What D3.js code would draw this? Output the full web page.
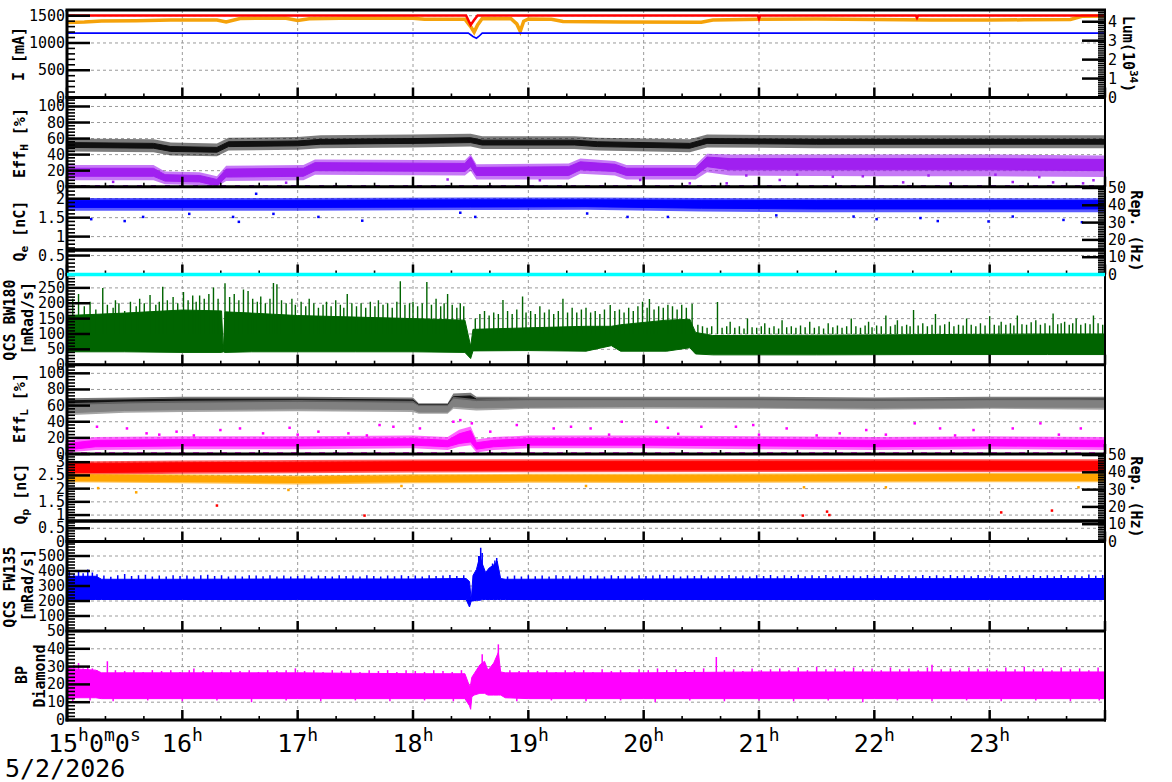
<!DOCTYPE html>
<html><head><meta charset="utf-8">
<script src="https://cdn.jsdelivr.net/npm/d3@7"></script>
<style>
body{margin:0;background:#fff;}
svg{display:block;font-family:"DejaVu Sans Mono",monospace;}
</style></head><body>
<svg id="c" width="1172" height="782"></svg>
<script>
// ---------------- DATA (time in decimal hours) ----------------
const hourTicks = [15,16,17,18,19,20,21,22,23,24];
const hourLabels = ["15","16","17","18","19","20","21","22","23"];
const dateLabel = "5/2/2026";

// Panel 1: beam currents [t, mA], luminosity [t, 1e34]
const currentRed = [[15,1505],[18.46,1505],[18.5,1330],[18.53,1420],[18.56,1505],[20.99,1505],[21.0,1440],[21.01,1505],[22.36,1505],[22.37,1460],[22.38,1505],[24,1505]];
const currentOrange = [[15.0,1375],[15.15,1385],[15.3,1405],[15.6,1410],[15.9,1420],[16.3,1420],[16.38,1385],[16.5,1450],[16.9,1455],[17.0,1415],[17.1,1445],[17.5,1460],[18.0,1455],[18.1,1435],[18.45,1435],[18.5,1300],[18.53,1200],[18.56,1330],[18.6,1450],[18.85,1445],[18.9,1350],[18.93,1215],[18.96,1400],[19.0,1440],[19.2,1435],[19.3,1395],[19.8,1385],[20.5,1380],[20.6,1420],[21.0,1435],[21.5,1440],[22.0,1430],[22.5,1420],[23.0,1420],[23.3,1425],[23.7,1430],[23.8,1490],[24.0,1495]];
const luminosity = [[15,3.4],[18.48,3.4],[18.52,3.22],[18.55,3.13],[18.57,3.22],[18.6,3.4],[24,3.4]];

// Scatter bands: rows [t, outerLo, coreLo, coreHi, outerHi]
const effHBlack = [[15.0,44,49,55,60],[15.75,43,48,54,59],[15.9,39,44,50,55],[16.3,38,43,49,54],[16.4,45,50,56,61],[17.0,46,51,57,62],[17.2,48,53,59,64],[18.0,49,54,60,65],[18.5,50,55,61,66],[18.6,47,52,58,63],[19.4,47,52,58,63],[19.6,45,50,56,61],[20.4,43,48,54,59],[20.55,49,54,60,65],[21.5,48,53,59,64],[22.5,48,53,59,64],[24,48,53,59,64]];
const effHPurple = [[15.0,8,13,23,27],[15.75,8,13,23,27],[15.85,3,7,15,19],[16.15,2,6,14,18],[16.3,0,1,9,13],[16.38,7,12,22,26],[17.05,8,13,23,27],[17.15,15,20,30,34],[18.45,14,19,29,33],[18.5,20,25,37,40],[18.55,9,14,24,28],[19.35,9,14,25,29],[19.45,16,21,31,35],[19.75,14,19,28,32],[19.85,9,14,23,27],[20.45,9,14,23,27],[20.55,18,25,37,41],[20.75,14,21,35,40],[22.0,13,21,35,40],[23.0,13,21,35,40],[24.0,12,20,34,39]];
const effHPurpleOut = [[19.97,8.4],[20.40,4.2],[20.72,4.2],[21.18,8.4],[21.64,12.5],[22.25,5.4],[22.66,4.2],[23.20,5.8],[23.55,5.4],[23.81,4.2],[23.9,8],[20.89,14],[21.33,15],[21.9,13],[22.47,14],[23.05,15],[23.43,12],[16.9,5],[18.3,9],[19.1,8],[15.4,6]];
const effHZero = [[15,0.6],[24,0.6]];

const qeBlue = [[15.0,1.68,1.77,1.96,2.02],[17.0,1.68,1.77,1.96,2.02],[18.5,1.7,1.78,1.97,2.03],[19.5,1.71,1.79,1.97,2.03],[20.5,1.66,1.75,1.96,2.02],[21.5,1.64,1.73,1.95,2.01],[24.0,1.64,1.73,1.95,2.01]];
const qeOut = [[15.21,1.46],[15.50,1.41],[15.66,1.52],[16.06,1.60],[16.49,1.39],[16.44,1.52],[16.79,1.6],[17.18,1.52],[17.56,1.42],[18.41,1.63],[18.54,1.52],[16.64,2.13],[19.51,1.61],[19.86,1.52],[20.21,1.52],[21.15,1.56],[21.82,1.53],[22.02,1.46],[22.40,1.49],[22.55,1.41],[22.99,1.40],[23.20,1.53],[23.64,1.44],[23.80,1.38]];
const qeRefLine = [[15,0.645],[24,0.645]];
const repZero = [[15,0],[24,0]];

// Spiky signals: dense envelope rows [t, lo, hi] and spike tips [t, v]
const bw180 = [[15.0,42,160],[15.5,42,168],[16.0,40,178],[16.34,40,175],[16.355,42,44],[16.37,40,172],[16.6,42,168],[17.0,42,160],[17.5,42,155],[18.0,42,150],[18.45,40,145],[18.5,20,60],[18.52,45,115],[19.0,46,120],[19.5,44,125],[19.72,62,125],[19.8,44,130],[20.2,44,145],[20.4,55,148],[20.45,35,105],[20.6,32,95],[21.5,32,96],[22.5,33,98],[23.5,33,100],[24.0,33,100]];
const bw180Spikes = [[15.00,195],[15.05,215],[15.10,230],[15.15,190],[15.20,205],[15.25,180],[15.31,250],[15.35,195],[15.40,185],[15.42,210],[15.45,200],[15.50,175],[15.55,205],[15.60,190],[15.63,215],[15.67,200],[15.72,227],[15.77,195],[15.80,205],[15.83,254],[15.87,210],[15.92,220],[15.96,200],
[16.01,237],[16.05,210],[16.09,225],[16.12,205],[16.15,225],[16.19,215],[16.23,230],[16.27,251],[16.31,215],[16.37,265],[16.41,220],[16.45,230],[16.49,210],[16.53,245],[16.57,240],[16.61,215],[16.65,205],[16.68,222],[16.72,200],[16.76,215],[16.79,266],[16.82,262],[16.86,210],[16.90,200],[16.95,215],[16.98,195],
[17.03,205],[17.07,190],[17.10,215],[17.14,200],[17.18,185],[17.22,195],[17.25,205],[17.29,190],[17.33,210],[17.37,195],[17.40,185],[17.43,230],[17.47,200],[17.51,190],[17.55,200],[17.59,185],[17.63,205],[17.67,190],[17.70,210],[17.74,195],[17.78,200],[17.82,185],[17.86,205],[17.89,272],[17.93,195],[17.97,200],
[18.00,205],[18.04,190],[18.08,200],[18.12,269],[18.16,195],[18.20,215],[18.24,190],[18.27,200],[18.30,230],[18.34,195],[18.38,185],[18.41,200],[18.44,190],[18.54,150],[18.58,165],[18.62,175],[18.66,160],[18.70,170],[18.74,165],[18.78,211],[18.82,175],[18.86,165],[18.90,180],[18.95,222],[18.98,170],
[19.02,175],[19.06,165],[19.10,190],[19.14,170],[19.18,180],[19.22,165],[19.26,175],[19.30,215],[19.34,170],[19.38,185],[19.42,170],[19.46,180],[19.50,185],[19.54,170],[19.58,175],[19.62,165],[19.66,180],[19.71,194],[19.75,175],[19.79,180],[19.83,170],[19.87,185],[19.91,175],[19.95,190],[19.99,205],
[20.03,185],[20.05,214],[20.09,180],[20.13,190],[20.17,185],[20.21,195],[20.25,190],[20.29,180],[20.33,195],[20.37,185],[20.42,198],[20.47,130],[20.51,125],[20.55,120],[20.59,125],[20.64,204],[20.68,120],[20.72,125],[20.75,140],[20.79,120],[20.83,125],[20.87,118],[20.90,150],[20.94,122],[20.98,120],
[21.02,125],[21.05,135],[21.09,120],[21.13,125],[21.17,118],[21.20,145],[21.24,122],[21.28,125],[21.32,120],[21.36,128],[21.40,122],[21.44,140],[21.48,120],[21.52,125],[21.56,118],[21.60,135],[21.64,122],[21.68,128],[21.72,120],[21.76,125],[21.80,150],[21.84,125],[21.88,120],[21.92,128],[21.95,140],[21.98,122],
[22.02,128],[22.06,125],[22.10,160],[22.14,125],[22.18,130],[22.20,145],[22.24,125],[22.28,130],[22.31,125],[22.34,178],[22.38,128],[22.42,135],[22.46,125],[22.50,130],[22.53,165],[22.57,128],[22.61,132],[22.65,140],[22.69,125],[22.73,130],[22.77,128],[22.80,150],[22.84,130],[22.88,125],[22.92,135],[22.96,128],
[23.00,158],[23.04,130],[23.08,128],[23.10,140],[23.14,130],[23.18,135],[23.21,128],[23.24,160],[23.28,132],[23.32,130],[23.36,138],[23.40,145],[23.44,130],[23.48,135],[23.52,128],[23.55,167],[23.59,132],[23.62,135],[23.65,140],[23.69,130],[23.72,135],[23.75,150],[23.79,130],[23.83,135],[23.87,132],[23.90,160],[23.94,135],[23.98,130]];

const effLBlack = [[15.0,58,61,66,69],[16.0,60,63,68,71],[17.0,60,63,68,71],[18.0,59,62,67,70],[18.05,54,56,61,63],[18.3,54,56,61,63],[18.35,62,65,71,75],[18.5,63,66,72,76],[18.55,60,63,68,71],[19.5,60,63,68,71],[21.0,60,63,68,71],[22.0,59,62,67,70],[23.0,60,63,68,71],[24.0,60,63,68,71]];
const effLGray = [[15.0,48,51,60,63],[15.5,51,54,62,65],[16.0,52,55,63,66],[17.0,53,56,64,67],[18.0,52,55,63,66],[18.05,50,52,59,61],[18.3,50,52,59,61],[18.35,56,59,68,71],[18.55,54,57,65,68],[19.0,56,58,66,69],[20.0,56,59,66,69],[21.0,56,58,66,69],[22.0,55,57,65,68],[23.0,56,58,66,69],[24.0,55,58,66,68]];
const effLMagenta = [[15.0,2,5,13,17],[15.25,5,9,17,21],[16.0,6,10,18,22],[17.0,6,10,18,22],[18.0,7,11,19,23],[18.3,5,9,17,21],[18.4,9,13,25,30],[18.5,11,15,29,34],[18.55,2,6,14,18],[18.7,5,9,17,21],[19.0,7,11,19,23],[20.0,7,11,19,23],[21.0,6,10,18,22],[22.0,5,9,17,21],[23.0,6,10,18,22],[24.0,5,9,17,21]];
const effLMagentaOut = [[15.26,33.8],[15.52,31.7],[15.69,25.6],[15.95,27.7],[16.33,29.7],[16.5,31.7],[16.7,25.6],[16.93,32.5],[17.18,27.7],[17.44,25.6],[17.71,35.9],[17.83,33.8],[18.06,31.7],[18.35,40],[18.41,42],[18.51,38],[18.67,27.7],[18.90,35.9],[19.22,31.7],[19.37,33.8],[19.54,31.7],[19.81,40],[20.11,40],[20.21,32.5],[20.50,33.8],[20.80,33.8],[20.95,35.9],[21.24,31.7],[21.70,25.6],[21.93,29.7],[22.35,38],[22.57,31.7],[22.86,29.7],[23.20,31.7],[23.44,38],[23.79,31.7],[15.8,24],[16.1,23],[17.0,24],[17.6,23],[19.7,24],[20.3,25],[21.0,24],[21.5,23],[22.1,24],[22.7,23],[23.6,24]];
const effLZero = [[15,0.6],[24,0.6]];

const qpRed = [[15.0,2.52,2.6,2.95,3.03],[16.0,2.56,2.64,2.98,3.06],[17.0,2.58,2.66,3.0,3.08],[18.0,2.61,2.69,3.02,3.1],[19.0,2.62,2.7,3.03,3.11],[22.0,2.63,2.71,3.04,3.12],[24.0,2.62,2.7,3.03,3.11]];
const qpOrange = [[15.0,2.24,2.3,2.52,2.57],[16.0,2.2,2.27,2.48,2.54],[17.0,2.16,2.23,2.44,2.5],[18.0,2.2,2.27,2.48,2.54],[19.0,2.22,2.29,2.5,2.56],[20.0,2.21,2.28,2.5,2.56],[23.0,2.24,2.31,2.53,2.59],[24.0,2.24,2.31,2.53,2.59]];
const qpRedOut = [[16.30,1.36],[17.58,0.98],[21.38,0.98],[21.59,1.13],[21.61,1.0],[23.10,1.10],[23.54,1.17]];
const qpOrangeOut = [[15.27,2.02],[15.6,1.86],[16.92,1.95],[21.39,2.05],[22.1,2.05],[23.77,2.05],[17.9,2.1],[19.5,2.1]];
const qpRefLine = [[15,0.78],[24,0.78]];
const qpZero = [[15,0.02],[24,0.02]];

const fw135 = [[15.0,210,365],[15.25,210,365],[15.3,210,345],[16.0,210,345],[17.0,210,347],[18.0,210,347],[18.46,210,350],[18.49,160,330],[18.505,200,205],[18.52,200,370],[18.55,205,410],[18.58,205,500],[18.6,210,450],[18.63,210,390],[18.66,210,420],[18.7,210,440],[18.73,210,465],[18.76,210,350],[18.8,210,345],[20.0,210,347],[21.0,210,348],[22.0,210,349],[23.0,210,349],[24,210,350]];
const fw135Spikes = [[15.02,395],[15.06,380],[15.10,395],[15.14,385],[15.18,410],[15.22,390],[15.26,378],[15.32,370],[15.38,362],[15.44,372],[15.50,380],[15.56,366],[15.62,372],[15.68,375],[15.74,364],[15.80,370],[15.86,363],[15.92,372],[15.98,366],
[16.04,370],[16.10,364],[16.16,372],[16.22,375],[16.28,366],[16.34,372],[16.40,364],[16.46,370],[16.52,363],[16.58,372],[16.64,370],[16.70,365],[16.76,372],[16.82,364],[16.88,370],[16.94,363],
[17.00,366],[17.06,372],[17.12,364],[17.18,370],[17.24,366],[17.30,363],[17.36,372],[17.42,366],[17.48,370],[17.54,364],[17.60,372],[17.66,366],[17.72,363],[17.78,370],[17.84,365],[17.90,372],[17.96,366],
[18.02,370],[18.08,364],[18.14,372],[18.20,366],[18.26,370],[18.32,374],[18.38,366],[18.44,372],[18.57,500],[18.587,555],[18.6,520],[18.69,450],[18.71,470],[18.726,487],[18.82,363],[18.88,370],[18.94,364],
[19.00,372],[19.06,365],[19.12,370],[19.18,364],[19.24,372],[19.30,366],[19.36,370],[19.42,363],[19.48,372],[19.54,366],[19.60,370],[19.66,364],[19.72,372],[19.78,366],[19.84,370],[19.90,364],[19.96,372],
[20.02,366],[20.08,370],[20.14,375],[20.20,366],[20.26,372],[20.32,364],[20.38,370],[20.44,366],[20.50,372],[20.56,364],[20.62,370],[20.68,366],[20.74,374],[20.80,365],[20.86,370],[20.92,364],[20.98,372],
[21.04,366],[21.10,374],[21.16,365],[21.22,372],[21.28,366],[21.34,375],[21.40,365],[21.46,372],[21.52,366],[21.58,374],[21.64,365],[21.70,372],[21.76,366],[21.82,370],[21.88,365],[21.94,374],
[22.00,366],[22.06,372],[22.12,365],[22.18,374],[22.24,366],[22.30,372],[22.36,365],[22.42,374],[22.48,366],[22.54,372],[22.60,365],[22.66,374],[22.72,366],[22.78,372],[22.84,365],[22.90,374],[22.96,366],
[23.02,372],[23.08,365],[23.14,374],[23.20,366],[23.26,372],[23.32,365],[23.38,374],[23.44,366],[23.50,372],[23.56,365],[23.62,374],[23.68,366],[23.74,372],[23.80,365],[23.86,376],[23.92,368],[23.98,374]];

const bpDiamond = [[15.0,12.5,29],[15.25,12.5,28],[15.3,12,26.5],[16.0,12,26.5],[17.0,12,26.5],[18.0,12,26],[18.45,12,26],[18.49,8,19],[18.5,6,20],[18.51,13,24],[18.53,14,26],[18.58,15,31],[18.62,15,33],[18.65,14,28],[18.7,14,32],[18.74,14,38],[18.76,14,27],[18.8,12.5,26.5],[19.0,12,26.5],[20.0,12,26.5],[21.0,12,27],[22.0,12,27],[23.0,12,27],[24.0,12,27]];
const bpSpikes = [[15.02,30],[15.06,31],[15.10,32],[15.14,29],[15.18,30],[15.22,29],[15.26,28],[15.35,33],[15.42,28],[15.5,27.5],[15.58,28],[15.66,27],[15.74,28],[15.82,27.5],[15.9,28],[15.98,27],[16.06,28],[16.1,29],[16.18,27.5],[16.26,28],[16.34,27],[16.42,28],[16.5,27.5],[16.58,28],[16.66,27],[16.74,28],[16.82,27.5],[16.9,28],[16.98,29],[17.06,27.5],[17.14,28],[17.22,27],[17.3,28],[17.38,27.5],[17.46,28],[17.54,27],[17.62,28],[17.7,27.5],[17.78,28],[17.86,27],[17.94,28],[18.02,27.5],[18.1,27],[18.18,28],[18.26,27.5],[18.34,27],[18.42,28],[18.6,37],[18.74,42.5],[18.84,28],[18.92,27.5],[19.0,28],[19.08,27.5],[19.16,28],[19.24,27],[19.32,28],[19.4,27.5],[19.48,28],[19.56,27],[19.64,28.5],[19.72,27.5],[19.8,28],[19.88,27],[19.96,28.5],[20.04,28],[20.12,29],[20.2,28],[20.28,28.5],[20.36,27.5],[20.44,28],[20.52,29],[20.63,35.4],[20.7,28],[20.78,28.5],[20.86,27.5],[20.94,29],[21.02,28],[21.1,28.5],[21.18,29],[21.26,28],[21.34,29.5],[21.42,28],[21.5,30],[21.58,28.5],[21.66,29],[21.74,28],[21.82,29.5],[21.9,28.5],[21.98,29],[22.06,28],[22.14,29.5],[22.22,28.5],[22.3,29],[22.38,28],[22.46,29.5],[22.5,31],[22.58,28.5],[22.66,29],[22.74,28],[22.82,29.5],[22.9,28.5],[22.98,29],[23.06,28],[23.14,29.5],[23.22,28.5],[23.3,30],[23.38,28.5],[23.46,29],[23.54,28],[23.62,29.5],[23.7,28.5],[23.78,29],[23.86,28],[23.94,29.5]];
// dips reaching below the dense band's lower edge [t, v]
const bpDips = [[15.05,10],[15.2,11],[15.4,10.5],[15.7,11],[16.0,10.5],[16.3,11],[16.6,10],[16.9,11],[17.2,10.5],[17.5,11],[17.8,10.5],[18.1,11],[18.35,10.5],[18.9,10.5],[19.2,11],[19.5,10.5],[19.8,11],[20.1,10],[20.4,11],[20.7,10.5],[21.0,11],[21.3,10.5],[21.6,11],[21.9,10],[22.2,11],[22.5,10.5],[22.8,11],[23.1,10.5],[23.4,11],[23.7,10.5],[23.95,11]];

// ---------------- LAYOUT ----------------
const xL = 67, xR = 1105;
const svg = d3.select('#c');
const X = d3.scaleLinear().domain([15,24]).range([xL,xR]);

const panels = [
  {top:10,   bottom:97.5,  max:1605,  ticks:[0,500,1000,1500]},
  {top:97.5, bottom:186.7, max:111.2, ticks:[0,20,40,60,80,100]},
  {top:186.7,bottom:274.5, max:2.317, ticks:[0,0.5,1,1.5,2]},
  {top:274.5,bottom:364.7, max:293.6, ticks:[0,50,100,150,200,250]},
  {top:364.7,bottom:454,   max:110.7, ticks:[0,20,40,60,80,100]},
  {top:454,  bottom:541.5, max:3.31,  ticks:[0,0.5,1,1.5,2,2.5,3]},
  {top:541.5,bottom:631,   max:596.7, ticks:[100,200,300,400,500]},
  {top:631,  bottom:720,   max:50,    ticks:[0,10,20,30,40,50]}
];
panels.forEach(p => { p.y = d3.scaleLinear().domain([0,p.max]).range([p.bottom,p.top]); });
const lumY = d3.scaleLinear().domain([0,4.62]).range([97.5,10]);
const rep3Y = d3.scaleLinear().domain([0,50.75]).range([274.5,186.7]);
const rep6Y = d3.scaleLinear().domain([0,50.6]).range([541.5,454]);

const gridColor = '#9a9a9a';
const gGrid = svg.append('g');
const gData = svg.append('g');
const gAxes = svg.append('g');

const defs = svg.append('defs');
panels.forEach((p,i) => {
  defs.append('clipPath').attr('id','clip'+i).append('rect')
    .attr('x',xL).attr('y',p.top).attr('width',xR-xL).attr('height',p.bottom-p.top);
});

hourTicks.filter(h=>h>15 && h<24).forEach(h => {
  gGrid.append('line').attr('x1',X(h)).attr('x2',X(h)).attr('y1',10).attr('y2',720)
    .attr('stroke',gridColor).attr('stroke-dasharray','3,3').attr('stroke-width',1);
});
panels.forEach(p => {
  p.ticks.filter(t=>t>0).forEach(t => {
    gGrid.append('line').attr('x1',xL).attr('x2',xR).attr('y1',p.y(t)).attr('y2',p.y(t))
      .attr('stroke',gridColor).attr('stroke-dasharray','3,3').attr('stroke-width',1);
  });
});

function band(i, data, color, fuzzOpacity) {
  const y = panels[i].y;
  const clip = `url(#clip${i})`;
  gData.append('path').datum(data).attr('clip-path',clip)
    .attr('d', d3.area().x(d=>X(d[0])).y0(d=>y(d[1])).y1(d=>y(d[4])))
    .attr('fill', color).attr('opacity', fuzzOpacity);
  gData.append('path').datum(data).attr('clip-path',clip)
    .attr('d', d3.area().x(d=>X(d[0])).y0(d=>y(d[2])).y1(d=>y(d[3])))
    .attr('fill', color).attr('stroke', color).attr('stroke-width',1);
}
function dense(i, data, color) {
  const y = panels[i].y;
  gData.append('path').datum(data).attr('clip-path',`url(#clip${i})`)
    .attr('d', d3.area().x(d=>X(d[0])).y0(d=>y(d[1])).y1(d=>y(d[2])))
    .attr('fill', color).attr('stroke', color).attr('stroke-width',1);
}
function line(i, data, color, w, sy, dash) {
  const y = sy || panels[i].y;
  const p = gData.append('path').datum(data).attr('clip-path',`url(#clip${i})`)
    .attr('d', d3.line().x(d=>X(d[0])).y(d=>y(d[1])))
    .attr('fill','none').attr('stroke', color).attr('stroke-width', w);
  if (dash) p.attr('stroke-dasharray', dash);
}
function dots(i, data, color, s) {
  const y = panels[i].y;
  gData.append('g').attr('clip-path',`url(#clip${i})`).selectAll('rect').data(data).join('rect')
    .attr('x', d=>X(d[0])-s/2).attr('y', d=>y(d[1])-s/2).attr('width',s).attr('height',s).attr('fill',color);
}
function spikes(i, data, base, color, w) {
  const y = panels[i].y;
  gData.append('g').attr('clip-path',`url(#clip${i})`).selectAll('line').data(data).join('line')
    .attr('x1', d=>X(d[0])).attr('x2', d=>X(d[0])).attr('y1', d=>y(d[1])).attr('y2', y(base))
    .attr('stroke', color).attr('stroke-width', w || 1.3);
}

// Panel 1
line(0, currentOrange, '#f5a20a', 3.5);
line(0, currentRed, '#ff0000', 2.5);
line(0, luminosity, '#0000ff', 1.6, lumY);
// Panel 2
band(1, effHBlack, '#111111', 0.55);
band(1, effHPurple, '#a020f0', 0.6);
dots(1, effHPurpleOut, '#a020f0', 2.5);
line(1, effHZero, '#a020f0', 2.5, null, '5,9');
// Panel 3
band(2, qeBlue, '#0000ff', 0.65);
dots(2, qeOut, '#0000ff', 2.5);
line(2, qeRefLine, '#000000', 3.5);
// Panel 4
dense(3, bw180, '#006400');
spikes(3, bw180Spikes, 100, '#006400', 1.4);
// Panel 5
band(4, effLBlack, '#111111', 0.55);
band(4, effLGray, '#808080', 0.7);
band(4, effLMagenta, '#ff00ff', 0.6);
dots(4, effLMagentaOut, '#ff00ff', 2.5);
line(4, effLZero, '#ff00ff', 2.5, null, '6,8');
// Panel 6
band(5, qpRed, '#ff0000', 0.65);
band(5, qpOrange, '#ffa500', 0.65);
dots(5, qpRedOut, '#ff0000', 2.5);
dots(5, qpOrangeOut, '#ffa500', 2.5);
line(5, qpRefLine, '#000000', 3.5);
line(5, qpZero, '#ffa500', 3, rep6Y);
// Panel 7
dense(6, fw135, '#0000ff');
spikes(6, fw135Spikes, 300, '#0000ff', 1.5);
// Panel 8
dense(7, bpDiamond, '#ff00ff');
spikes(7, bpSpikes, 20, '#ff00ff', 1.5);
spikes(7, bpDips, 20, '#ff00ff', 1.5);

// ---------------- AXES ----------------
function hline(x1,x2,y,w){ gAxes.append('line').attr('x1',x1).attr('x2',x2).attr('y1',y).attr('y2',y).attr('stroke','#000').attr('stroke-width',w); }
function vline(x,y1,y2,w){ gAxes.append('line').attr('x1',x).attr('x2',x).attr('y1',y1).attr('y2',y2).attr('stroke','#000').attr('stroke-width',w); }

panels.forEach(p => {
  const step = p.ticks[1]-p.ticks[0];
  for (let v = 0; v <= p.max + 1e-9; v += step/5) hline(xL, xL+8, p.y(v), 1.6);
  p.ticks.forEach(t => {
    hline(xL, xL+23, p.y(t), 2.5);
    gAxes.append('text').attr('x',65).attr('y',p.y(t)).attr('text-anchor','end')
      .attr('dominant-baseline','central').attr('font-size',15).text(t);
  });
  for (let m = 0; m <= 9*60; m += 20) {
    const isH = m % 60 === 0;
    vline(X(15 + m/60), p.bottom - (isH ? 10 : 4), p.bottom, isH ? 2.5 : 1.6);
  }
});

function rightAxis(sy, ticks) {
  const step = ticks[1]-ticks[0];
  for (let v = 0; v <= sy.domain()[1] + 1e-9; v += step/10) hline(xR-7, xR, sy(v), 1.4);
  ticks.forEach(t => {
    hline(xR-23, xR, sy(t), 2.5);
    gAxes.append('text').attr('x',1108).attr('y',sy(t)).attr('dominant-baseline','central')
      .attr('font-size',15).text(t);
  });
}
rightAxis(lumY, [0,1,2,3,4]);
rightAxis(rep3Y, [0,10,20,30,40,50]);
rightAxis(rep6Y, [0,10,20,30,40,50]);

hline(xL-1.5, xR+1, 10, 3);
panels.forEach(p => hline(xL-1.5, xR+1, p.bottom, 3));
vline(xL, 10, 721.5, 3);
vline(xR, 10, 721.5, 2);
gAxes.append('path').datum(repZero)
  .attr('d', d3.line().x(d=>X(d[0])).y(d=>rep3Y(d[1])))
  .attr('stroke','#00ffff').attr('stroke-width',3.5).attr('fill','none');

// ---------------- TITLES ----------------
function leftTitle(x, y, parts) {
  const t = gAxes.append('text').attr('transform',`translate(${x},${y}) rotate(-90)`)
    .attr('text-anchor','middle').attr('dominant-baseline','central')
    .attr('font-size',15).attr('font-weight','bold');
  parts.forEach(pt => {
    const s = t.append('tspan').text(pt[0]);
    if (pt[1]==='sub') s.attr('font-size',11).attr('dy',4);
    if (pt[1]==='after') s.attr('dy',-4);
  });
}
leftTitle(19, 54, [['I [mA]']]);
leftTitle(20, 143, [['Eff'],['H','sub'],[' [%]','after']]);
leftTitle(20, 231, [['Q'],['e','sub'],[' [nC]','after']]);
leftTitle(10, 320, [['QCS BW180']]);
leftTitle(28, 318, [['[mRad/s]']]);
leftTitle(20, 408, [['Eff'],['L','sub'],[' [%]','after']]);
leftTitle(21, 494, [['Q'],['p','sub'],[' [nC]','after']]);
leftTitle(10, 587, [['QCS FW135']]);
leftTitle(28, 585, [['[mRad/s]']]);
leftTitle(22, 675, [['BP']]);
leftTitle(40, 676, [['Diamond']]);

function rightTitle(x, y, parts) {
  const t = gAxes.append('text').attr('transform',`translate(${x},${y}) rotate(90)`)
    .attr('text-anchor','middle').attr('dominant-baseline','central')
    .attr('font-size',15).attr('font-weight','bold');
  parts.forEach(pt => {
    const s = t.append('tspan').text(pt[0]);
    if (pt[1]==='sup') s.attr('font-size',11).attr('dy',-6);
    if (pt[1]==='after') s.attr('dy',6);
  });
}
rightTitle(1128, 54, [['Lum(10'],['34','sup'],[')','after']]);
rightTitle(1136, 231, [['Rep. (Hz)']]);
rightTitle(1136, 497, [['Rep. (Hz)']]);

// ---------------- TIME LABELS ----------------
const bigFs = 25, supFs = 18, baseY = 752;
hourLabels.forEach((lab,i) => {
  const h = hourTicks[i];
  const t = svg.append('text').attr('y', baseY).attr('font-size', bigFs);
  if (i === 0) {
    t.attr('x', 48);
    [['15',0],['h',1],['0',0],['m',1],['0',0],['s',1]].forEach(([s,sup],k) => {
      const ts = t.append('tspan').text(s);
      if (sup) ts.attr('font-size',supFs).attr('dy',-11);
      else if (k>0) ts.attr('dy',11);
    });
  } else {
    t.attr('x', X(h)).attr('text-anchor','middle');
    t.append('tspan').text(lab);
    t.append('tspan').text('h').attr('font-size',supFs).attr('dy',-11);
  }
});
svg.append('text').attr('x',5).attr('y',777).attr('font-size',bigFs).text(dateLabel);
</script>
</body></html>
